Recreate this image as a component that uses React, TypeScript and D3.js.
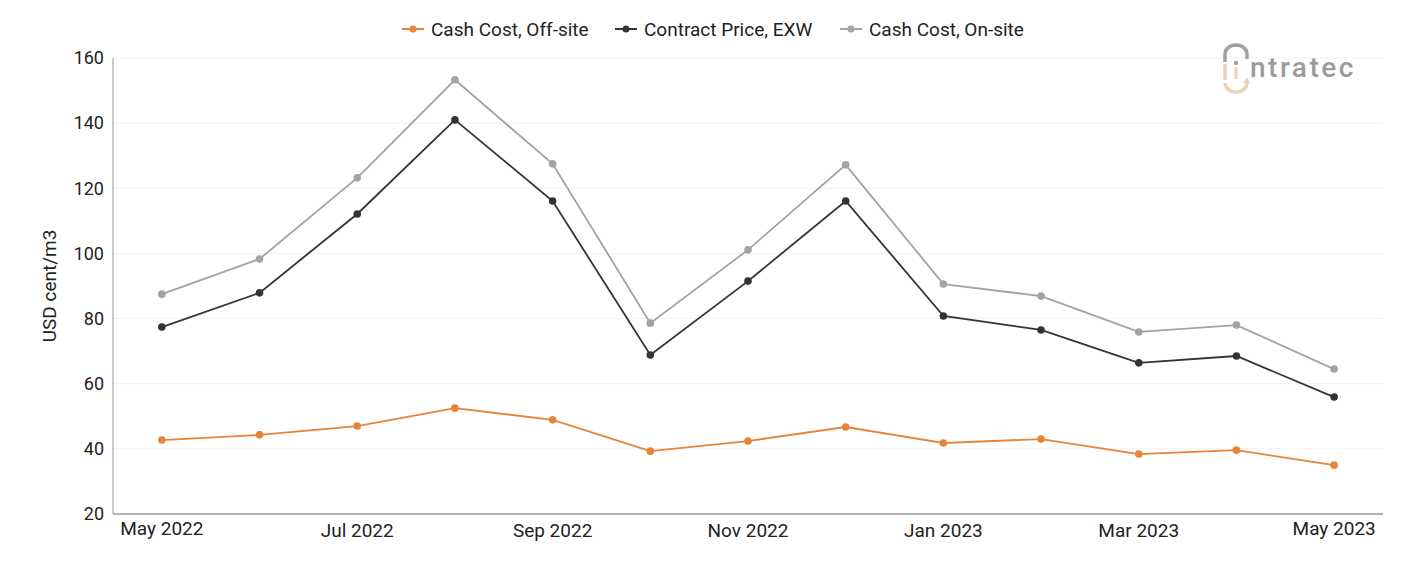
import React from 'react';
import * as d3 from 'd3';

const months = ['May 2022', 'Jun 2022', 'Jul 2022', 'Aug 2022', 'Sep 2022', 'Oct 2022', 'Nov 2022', 'Dec 2022', 'Jan 2023', 'Feb 2023', 'Mar 2023', 'Apr 2023', 'May 2023'];
const offSite = [42.7, 44.3, 47.0, 52.5, 48.9, 39.3, 42.4, 46.7, 41.8, 43.0, 38.4, 39.6, 35.0];
const contract = [77.4, 87.9, 112.1, 141.0, 116.1, 68.8, 91.5, 116.1, 80.8, 76.5, 66.4, 68.5, 55.9];
const onSite = [87.5, 98.3, 123.2, 153.3, 127.5, 78.6, 101.1, 127.2, 90.6, 86.9, 75.9, 78.0, 64.5];
const yTicks = [20, 40, 60, 80, 100, 120, 140, 160];
const xLabels = ['May 2022', 'Jul 2022', 'Sep 2022', 'Nov 2022', 'Jan 2023', 'Mar 2023', 'May 2023'];

const width = 1401;
const height = 561;
const margin = { top: 58, bottom: 47, left: 113, right: 18 };
const font = 'Roboto, sans-serif';

const series = [
  { name: 'Cash Cost, Off-site', values: offSite, color: '#e8833a', lx: 402 },
  { name: 'Contract Price, EXW', values: contract, color: '#333333', lx: 615 },
  { name: 'Cash Cost, On-site', values: onSite, color: '#a3a3a3', lx: 840 },
];

export default function App() {
  const x = d3.scalePoint<string>().domain(months).range([margin.left, width - margin.right]).padding(0.5);
  const y = d3.scaleLinear().domain([20, 160]).range([height - margin.bottom, margin.top]);
  const line = d3.line<number>().x((d, i) => x(months[i]) as number).y(d => y(d));

  return (
    <svg width={width} height={height} style={{ position: 'absolute', left: 0, top: 0, background: '#fff' }}>
      {yTicks.map(t => (
        <g key={t}>
          {t > 20 && <line x1={margin.left} x2={width - margin.right} y1={y(t)} y2={y(t)} stroke="#f2f2f2" strokeWidth={1} />}
          <text x={margin.left - 9} y={y(t)} dy="0.35em" textAnchor="end" fontFamily={font} fontSize={18} fill="#222">{t}</text>
        </g>
      ))}
      <line x1={margin.left} x2={margin.left} y1={margin.top} y2={height - margin.bottom} stroke="#999" strokeWidth={1} />
      <line x1={margin.left} x2={width - margin.right} y1={height - margin.bottom} y2={height - margin.bottom} stroke="#999" strokeWidth={1.5} />
      {xLabels.map((l, i) => (
        <text key={l} x={x(l)} y={height - margin.bottom + (l.startsWith('May') ? 21 : 23)} textAnchor="middle" fontFamily={font} fontSize={19} fill="#222">{l}</text>
      ))}
      <text transform={`translate(56,${(margin.top + height - margin.bottom) / 2}) rotate(-90)`} textAnchor="middle" fontFamily={font} fontSize={19} fill="#222">USD cent/m3</text>

      {series.map(s => (
        <g key={s.name}>
          <path d={line(s.values) || ''} fill="none" stroke={s.color} strokeWidth={1.8} />
          {s.values.map((v, i) => (
            <circle key={i} cx={x(months[i])} cy={y(v)} r={3.8} fill={s.color} />
          ))}
          <line x1={s.lx} x2={s.lx + 22} y1={29} y2={29} stroke={s.color} strokeWidth={2} />
          <circle cx={s.lx + 11} cy={29} r={3.5} fill={s.color} />
          <text x={s.lx + 29} y={29} dy="0.35em" fontFamily={font} fontSize={19} fill="#222">{s.name}</text>
        </g>
      ))}

      <g>
        <path d="M1225,62 L1225,54 A11,9 0 0 1 1247,54 L1247,59" fill="none" stroke="#a0a0a0" strokeWidth={3.5} />
        <rect x={1223.3} y={64} width={3.5} height={16} fill="#ecd2b6" />
        <circle cx={1236} cy={63} r={2.2} fill="#a0a0a0" />
        <rect x={1234.5} y={67} width={3} height={12} fill="#ecd2b6" />
        <path d="M1225,83 A11,9 0 0 0 1247,83" fill="none" stroke="#ecd2b6" strokeWidth={3.5} />
        <path d="M1243,83 L1250,83 L1247,77 Z" fill="#ecd2b6" />
        <text x={1250} y={77} fontFamily={font} fontSize={28} fontWeight={500} fill="#9b9b9b" letterSpacing={2.5}>ntratec</text>
      </g>
    </svg>
  );
}
